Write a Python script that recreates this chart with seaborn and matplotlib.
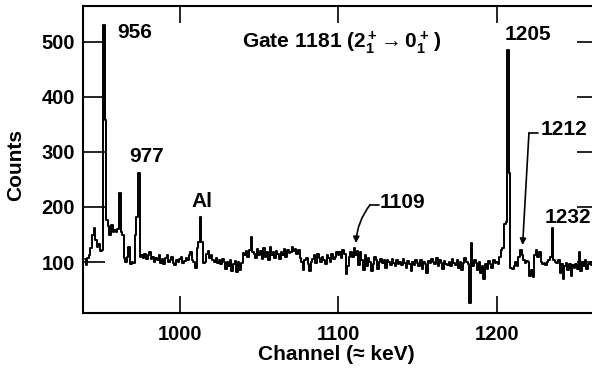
import numpy as np
import pandas as pd
import matplotlib
matplotlib.use("Agg")
import matplotlib.pyplot as plt
import seaborn as sns

# ---------------- data ----------------
channel_start = 940  # first channel (keV)
counts = [
    105, 95, 108, 112, 125, 150, 162, 140, 128, 132,      # 940
    120, 122, 530, 358, 176, 165, 150, 168, 155, 158,     # 950
    155, 160, 225, 155, 150, 108, 100, 110, 127, 96,      # 960
    100, 98, 150, 182, 262, 110, 112, 108, 115, 105,      # 970
    112, 118, 105, 110, 100, 108, 103, 112, 98, 105,      # 980
    96, 108, 112, 100, 103, 110, 98, 95, 104, 100,        # 990
    105, 110, 98, 102, 108, 103, 112, 118, 104, 100,      # 1000
    89, 125, 136, 182, 136, 98, 100, 115, 120, 108,       # 1010
    112, 104, 100, 108, 98, 103, 96, 105, 100, 88,        # 1020
    100, 92, 104, 83, 96, 102, 82, 100, 85, 98,           # 1030
    116, 112, 120, 110, 122, 145, 118, 115, 108, 124,     # 1040
    112, 120, 106, 125, 110, 118, 104, 127, 112, 118,     # 1050
    108, 120, 114, 106, 118, 113, 124, 110, 122, 116,     # 1060
    118, 128, 120, 124, 115, 122, 108, 100, 85, 104,      # 1070
    108, 96, 84, 100, 105, 112, 98, 115, 108, 100,        # 1080
    110, 104, 96, 112, 108, 100, 115, 106, 110, 118,      # 1090
    112, 118, 108, 122, 114, 78, 92, 110, 118, 110,       # 1100
    126, 112, 120, 95, 118, 104, 86, 112, 92, 108,        # 1110
    100, 84, 96, 110, 104, 88, 100, 106, 98, 104,         # 1120
    90, 104, 100, 94, 106, 98, 92, 103, 96, 100,          # 1130
    94, 105, 98, 90, 102, 96, 84, 100, 95, 103,           # 1140
    98, 92, 104, 88, 100, 96, 80, 102, 98, 106,           # 1150
    100, 96, 108, 92, 104, 98, 88, 102, 96, 94,           # 1160
    100, 92, 106, 98, 94, 104, 90, 100, 86, 98,           # 1170
    108, 100, 96, 25, 135, 92, 104, 98, 86, 100,          # 1180
    80, 92, 70, 96, 88, 102, 96, 90, 104, 98,             # 1190
    100, 96, 110, 122, 125, 170, 172, 485, 262, 90,       # 1200
    88, 92, 100, 92, 110, 122, 112, 104, 98, 102,         # 1210
    100, 75, 85, 73, 112, 122, 110, 118, 100, 96,         # 1220
    98, 95, 100, 104, 110, 162, 104, 100, 98, 104,        # 1230
    80, 96, 70, 92, 98, 86, 96, 74, 95, 90,               # 1240
    96, 88, 118, 84, 100, 92, 104, 88, 96, 100,           # 1250
    95,                                                   # 1260
]
x_ticks = [1000, 1100, 1200]
y_ticks = [100, 200, 300, 400, 500]
x_label = "Channel (\u2248 keV)"
y_label = "Counts"
gate_text = r"Gate 1181 ($2_1^+\!\rightarrow 0_1^+\,$)"

channels = channel_start + np.arange(len(counts))
df = pd.DataFrame({"channel": channels, "counts": counts})

# ---------------- style ----------------
sns.set_style("ticks")
plt.rcParams["font.family"] = ["Liberation Sans", "DejaVu Sans"]
plt.rcParams["font.weight"] = "bold"
plt.rcParams["text.color"] = "black"
plt.rcParams["axes.labelcolor"] = "black"
plt.rcParams["xtick.color"] = "black"
plt.rcParams["ytick.color"] = "black"
plt.rcParams["mathtext.fontset"] = "custom"
plt.rcParams["mathtext.rm"] = "Liberation Sans:bold"
plt.rcParams["mathtext.it"] = "Liberation Sans:bold"
plt.rcParams["mathtext.bf"] = "Liberation Sans:bold"

W, H = 592, 376
fig = plt.figure(figsize=(W / 100, H / 100), dpi=100)
ax = fig.add_axes([83 / W, (H - 313) / H, 516 / W, 307 / H])

sns.lineplot(data=df, x="channel", y="counts", ax=ax, color="black",
             lw=1.4, drawstyle="steps-mid", estimator=None)

ax.set_xlim(938.8, 1264.4)
ax.set_ylim(7.5, 565)
ax.set_xticks(x_ticks)
ax.set_yticks(y_ticks)

for s in ax.spines.values():
    s.set_linewidth(1.5)
    s.set_color("black")

ax.tick_params(axis="both", direction="in", top=True, right=True,
               colors="black", labelsize=14.5, width=1.2)
ax.tick_params(axis="x", length=12, pad=9)
ax.tick_params(axis="y", length=16, pad=6)
for lab in ax.get_xticklabels() + ax.get_yticklabels():
    lab.set_fontweight("bold")

ax.set_xlabel(x_label, fontsize=15, fontweight="bold")
ax.set_ylabel(y_label, fontsize=15, fontweight="bold")
ax.xaxis.set_label_coords(0.491, -0.105)
ax.yaxis.set_label_coords(-0.112, 0.482)

# ---------------- annotations ----------------
fs = 15
ax.text(960.3, 517, "956", fontsize=fs, fontweight="bold", va="center", ha="left")
ax.text(967.8, 292, "977", fontsize=fs, fontweight="bold", va="center", ha="left")
ax.text(1013.6, 210, "Al", fontsize=fs, fontweight="bold", va="center", ha="center")
ax.text(1039.1, 498, gate_text, fontsize=fs, fontweight="bold", va="center", ha="left")
ax.text(1205.0, 514, "1205", fontsize=fs, fontweight="bold", va="center", ha="left")
ax.text(1227.8, 341, "1212", fontsize=fs, fontweight="bold", va="center", ha="left")
ax.text(1230.3, 181, "1232", fontsize=fs, fontweight="bold", va="center", ha="left")
ax.text(1126.2, 208, "1109", fontsize=fs, fontweight="bold", va="center", ha="left")

arrow_kw = dict(arrowstyle="-|>", color="black", lw=1.2, mutation_scale=9,
                shrinkA=0, shrinkB=0)
# 1212 leader
ax.plot([1225.9, 1220.2], [334.5, 334.5], color="black", lw=1.2)
ax.annotate("", xy=(1216.2, 131), xytext=(1220.2, 334.5), arrowprops=arrow_kw)
# 1109 leader
ax.plot([1125.6, 1119.8], [203.6, 203.6], color="black", lw=1.2)
ax.annotate("", xy=(1111.0, 134.5), xytext=(1119.8, 203.6),
            arrowprops=dict(arrow_kw, connectionstyle="arc3,rad=0.15"))

fig.savefig("out.png", dpi=100)
